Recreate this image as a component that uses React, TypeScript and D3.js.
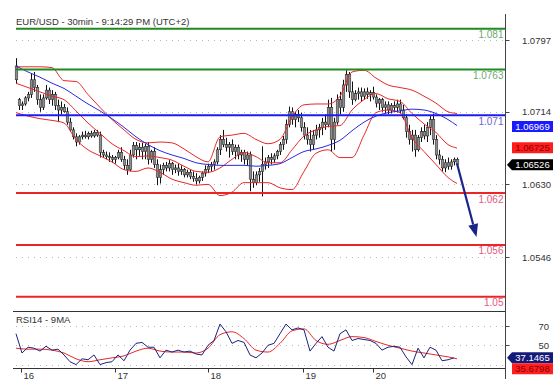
import * as d3 from 'd3'

const FONT = '"Liberation Sans", Arial, sans-serif'

// EUR/USD 30min candles, values in pips above 1.0000
const open = [
  767, 728, 721, 723, 730, 734, 751, 742, 728, 719,
  730, 739, 728, 734, 721, 716, 719, 714, 702, 693,
  685, 679, 685, 687, 685, 689, 686, 690, 687, 667,
  664, 662, 661, 659, 661, 667, 659, 652, 647, 664,
  675, 670, 673, 668, 674, 659, 668, 653, 638, 647,
  652, 649, 654, 647, 649, 645, 647, 641, 644, 639,
  637, 634, 638, 643, 647, 651, 653, 656, 670, 682,
  676, 673, 676, 668, 673, 664, 667, 659, 664, 636,
  632, 641, 645, 653, 656, 661, 659, 663, 668, 676,
  682, 699, 714, 705, 711, 707, 696, 687, 682, 676,
  687, 693, 696, 702, 699, 719, 682, 702, 728, 719,
  745, 757, 737, 728, 735, 737, 732, 737, 734, 736,
  731, 724, 728, 719, 722, 716, 721, 719, 723, 716,
  707, 691, 682, 687, 670, 684, 691, 686, 696, 705,
  682, 664, 659, 649, 655, 651, 656, 659,
]
const high = [
  776, 730, 726, 732, 737, 758, 760, 745, 734, 734,
  745, 742, 739, 737, 728, 726, 723, 719, 707, 696,
  689, 687, 691, 692, 691, 692, 693, 693, 691, 670,
  668, 667, 664, 663, 670, 673, 663, 659, 670, 679,
  679, 678, 678, 677, 679, 670, 673, 659, 653, 655,
  656, 658, 656, 653, 654, 652, 649, 647, 647, 645,
  643, 640, 645, 652, 654, 656, 659, 673, 687, 693,
  684, 679, 682, 676, 676, 670, 670, 668, 668, 645,
  645, 649, 674, 661, 664, 666, 666, 670, 679, 686,
  705, 720, 719, 714, 716, 713, 702, 696, 693, 693,
  699, 700, 707, 711, 728, 730, 707, 734, 737, 751,
  762, 760, 749, 739, 742, 742, 741, 742, 739, 743,
  734, 730, 730, 726, 726, 724, 726, 728, 728, 722,
  711, 699, 693, 693, 687, 696, 699, 702, 709, 712,
  687, 670, 663, 659, 661, 659, 661, 661,
]
const low = [
  746, 716, 716, 721, 726, 730, 737, 722, 714, 716,
  728, 723, 721, 716, 702, 711, 713, 699, 691, 682,
  674, 676, 682, 683, 682, 684, 684, 685, 661, 661,
  659, 656, 655, 654, 659, 656, 647, 641, 645, 661,
  659, 663, 659, 659, 653, 655, 649, 629, 631, 641,
  645, 645, 641, 643, 640, 641, 638, 638, 636, 633,
  630, 631, 634, 639, 643, 645, 647, 653, 664, 673,
  668, 661, 664, 659, 659, 656, 653, 652, 622, 626,
  629, 633, 616, 647, 649, 653, 655, 659, 664, 670,
  677, 696, 699, 696, 702, 691, 682, 676, 668, 670,
  682, 684, 687, 693, 696, 668, 670, 699, 711, 714,
  737, 730, 722, 726, 728, 726, 728, 729, 726, 728,
  719, 716, 714, 712, 711, 712, 714, 713, 712, 705,
  684, 676, 668, 662, 668, 679, 682, 679, 687, 676,
  659, 653, 645, 644, 647, 647, 652, 651,
]
const close = [
  751, 721, 723, 730, 734, 751, 742, 728, 719, 730,
  739, 728, 734, 721, 716, 719, 714, 702, 693, 685,
  679, 685, 687, 685, 689, 686, 690, 687, 667, 664,
  662, 661, 659, 661, 667, 659, 652, 647, 664, 675,
  670, 673, 668, 674, 659, 668, 653, 638, 647, 652,
  649, 654, 647, 649, 645, 647, 641, 644, 639, 637,
  634, 638, 643, 647, 651, 653, 656, 670, 682, 676,
  673, 676, 668, 673, 664, 667, 659, 664, 636, 632,
  641, 645, 653, 656, 661, 659, 663, 668, 676, 682,
  699, 714, 705, 711, 707, 696, 687, 682, 676, 687,
  693, 696, 702, 699, 719, 682, 702, 728, 719, 745,
  757, 737, 728, 735, 737, 732, 737, 734, 736, 731,
  724, 728, 719, 722, 716, 721, 719, 723, 716, 707,
  691, 682, 687, 670, 684, 691, 686, 696, 705, 682,
  664, 659, 649, 655, 651, 656, 659, 653,
]

// Bollinger bands and moving average, read every 4th bar (pips)
const bbUpper = [766, 766, 766, 765, 750, 749, 734, 719, 705, 693, 682, 678, 679, 678, 671, 662, 656, 685, 687, 689, 682, 677, 682, 708, 722, 723, 723, 732, 760, 762, 753, 745, 742, 739, 732, 724, 714, 712]
const bbMid = [747, 742, 737, 732, 728, 715, 701, 689, 677, 669, 662, 663, 661, 658, 651, 645, 644, 649, 659, 667, 662, 655, 655, 670, 686, 693, 697, 698, 716, 728, 735, 729, 726, 712, 700, 690, 676, 672]
const bbLower = [713, 709, 706, 704, 701, 682, 670, 663, 656, 647, 645, 649, 644, 636, 632, 629, 630, 617, 621, 632, 632, 632, 626, 624, 645, 666, 670, 661, 661, 687, 713, 716, 713, 684, 668, 653, 638, 631]
const maLine = [767, 760, 754, 747, 741, 732, 723, 715, 706, 696, 685, 676, 669, 664, 660, 655, 653, 652, 652, 652, 651, 652, 654, 661, 668, 671, 675, 681, 692, 702, 709, 713, 715, 717, 716, 712, 705, 698]

// RSI14 every 2nd bar, and its 9MA every 4th bar
const rsi = [
  62, 42, 48, 47, 44, 49, 45, 46, 40, 33, 30, 36, 35, 40, 30, 32, 33, 40, 34, 45,
  52, 53, 48, 48, 37, 45, 43, 45, 43, 44, 41, 40, 50, 55, 72, 64, 52, 55, 53, 40,
  37, 42, 50, 52, 62, 72, 66, 68, 66, 44, 52, 59, 48, 44, 62, 66, 55, 57, 56, 55,
  52, 45, 48, 49, 48, 38, 30, 47, 37, 48, 45, 34, 35, 37,
]
const rsiMa = [47, 46, 46, 45, 42, 36, 33, 35, 37, 39, 44, 47, 44, 43, 43, 42, 47, 61, 64, 57, 45, 43, 52, 65, 67, 55, 51, 55, 59, 58, 54, 50, 47, 44, 42, 40, 38, 36]

const levels = [1.081, 1.0763, 1.071, 1.062, 1.056, 1.05]
const levelLabels = ['1.081', '1.0763', '1.071', '1.062', '1.056', '1.05']
const levelKinds = ['res', 'res', 'pivot', 'sup', 'sup', 'sup']
const priceTicks = [1.0797, 1.0714, 1.063, 1.0546]
const rsiTicks = [70, 50, 30]
const rsiTickLabels = [70, 50]
const dayTicks = [1.5, 33, 64, 95.5, 119]
const dayLabels = ['16', '17', '18', '19', '20']

const lastMa = 1.06969
const lastMid = 1.06725
const lastClose = 1.06526
const lastRsi = 37.1465
const lastRsiMa = 35.6798
const target = { idx: 153.5, price: 1.0569 }

const pip = (v: number) => 1 + v / 10000

const levelColor: Record<string, string> = { res: '#1f8a1f', pivot: '#1c1cf0', sup: '#ec2424' }
const levelText: Record<string, string> = { res: '#72a872', pivot: '#6c64d8', sup: '#e4587e' }

export default function App() {
  const x = d3.scaleLinear().domain([0, 147]).range([16, 457])
  const y = d3.scaleLinear().domain([1.0797, 1.0546]).range([40, 257])
  const yr = d3.scaleLinear().domain([70, 30]).range([326, 364.6])
  const AX = 505.5
  const L = 16

  const bandIdx = [...d3.range(0, 147, 4), 147]
  const rsiIdx = d3.range(0, 148, 2)

  const priceLine = (vals: number[]) =>
    d3
      .line<number>()
      .x((_, i) => x(bandIdx[i]))
      .y((v) => y(pip(v)))
      .curve(d3.curveMonotoneX)(vals) as string

  const rsiPath = d3
    .line<number>()
    .x((_, i) => x(rsiIdx[i]))
    .y((v) => yr(v))(rsi) as string
  const rsiMaPath = d3
    .line<number>()
    .x((_, i) => x(bandIdx[i]))
    .y((v) => yr(v))
    .curve(d3.curveMonotoneX)(rsiMa) as string

  // arrow
  const ax0 = x(147)
  const ay0 = y(pip(close[147])) - 1
  const ax1 = x(target.idx)
  const ay1 = y(target.price)
  const dx = ax1 - ax0
  const dy = ay1 - ay0
  const len = Math.hypot(dx, dy)
  const ux = dx / len
  const uy = dy / len
  const hl = 13
  const hw = 5
  const bx = ax1 - ux * hl
  const by = ay1 - uy * hl
  const head = `M${ax1},${ay1}L${bx - uy * hw},${by + ux * hw}L${bx + uy * hw},${by - ux * hw}Z`

  const box = (cy: number, fill: string, color: string, label: string, pointer: boolean) => {
    const top = cy - 5.5
    const bot = cy + 5.5
    const d = pointer
      ? `M507,${cy}L512,${top}L553,${top}L553,${bot}L512,${bot}Z`
      : `M512,${top}L553,${top}L553,${bot}L512,${bot}Z`
    return (
      <g key={label}>
        <path d={d} fill={fill} />
        <text x={532.5} y={cy + 3.5} textAnchor="middle" fill={color} fontSize={9.5} fontFamily={FONT}>
          {label}
        </text>
      </g>
    )
  }

  const rsiBoxY = yr(lastRsi)
  const rsiMaBoxY = Math.max(yr(lastRsiMa), rsiBoxY + 11)

  return (
    <div style={{ position: 'absolute', left: 0, top: 0 }}>
      <svg width={560} height={392} style={{ display: 'block', background: '#fff' }}>
        <text x={L} y={24.5} fontSize={9.5} fontFamily={FONT} fill="#333">
          EUR/USD - 30min - 9:14:29 PM (UTC+2)
        </text>

        {/* dotted grid */}
        {priceTicks.map((t) => (
          <line key={t} x1={L} x2={AX} y1={Math.round(y(t)) + 0.5} y2={Math.round(y(t)) + 0.5} stroke="#b8b8b8" strokeDasharray="1 5" />
        ))}
        {rsiTicks.map((t) => (
          <line key={t} x1={L} x2={AX} y1={Math.round(yr(t)) + 0.5} y2={Math.round(yr(t)) + 0.5} stroke="#b8b8b8" strokeDasharray="1 5" />
        ))}

        {/* candles */}
        {close.map((c, i) => {
          const cx = Math.round(x(i)) + 0.5
          const o = y(pip(open[i]))
          const cl = y(pip(c))
          const top = Math.min(o, cl)
          const h = Math.max(Math.abs(o - cl), 1)
          return (
            <g key={i}>
              <line x1={cx} x2={cx} y1={y(pip(high[i]))} y2={y(pip(low[i]))} stroke="#111" strokeWidth={1} />
              <rect x={cx - 1.3} y={top} width={2.6} height={h} fill="#8e8e8e" stroke="#222" strokeWidth={0.5} />
            </g>
          )
        })}

        {/* indicators */}
        <path d={priceLine(bbUpper)} fill="none" stroke="#e82828" strokeWidth={1} />
        <path d={priceLine(bbLower)} fill="none" stroke="#e82828" strokeWidth={1} />
        <path d={priceLine(bbMid)} fill="none" stroke="#e82828" strokeWidth={1} />
        <path d={priceLine(maLine)} fill="none" stroke="#2a2ae0" strokeWidth={1} />

        {/* levels */}
        {levels.map((lv, i) => {
          const ly = y(lv)
          return (
            <g key={lv}>
              <line x1={L} x2={AX} y1={ly} y2={ly} stroke={levelColor[levelKinds[i]]} strokeWidth={2} />
              <text x={AX - 2} y={ly + 9.5} textAnchor="end" fontSize={10} fontFamily={FONT} fill={levelText[levelKinds[i]]}>
                {levelLabels[i]}
              </text>
            </g>
          )
        })}

        {/* arrow */}
        <line x1={ax0} y1={ay0} x2={bx} y2={by} stroke="#1b2488" strokeWidth={2.2} />
        <path d={head} fill="#1b2488" />

        {/* panel frame */}
        <line x1={13} x2={AX} y1={311.5} y2={311.5} stroke="#333" />
        <line x1={13} x2={AX} y1={368.5} y2={368.5} stroke="#333" />
        <line x1={AX} x2={AX} y1={14} y2={379} stroke="#444" />

        {/* price axis */}
        {priceTicks.map((t) => (
          <g key={t}>
            <line x1={AX} x2={AX + 4} y1={Math.round(y(t)) + 0.5} y2={Math.round(y(t)) + 0.5} stroke="#444" />
            <text x={551} y={y(t) + 3.5} textAnchor="end" fontSize={9.5} fontFamily={FONT} fill="#333">
              {t.toFixed(4)}
            </text>
          </g>
        ))}

        {/* RSI panel */}
        <text x={L} y={323} fontSize={9.5} fontFamily={FONT} fill="#333">
          RSI14 - 9MA
        </text>
        <path d={rsiMaPath} fill="none" stroke="#e82828" strokeWidth={1} />
        <path d={rsiPath} fill="none" stroke="#1a237e" strokeWidth={1} />
        {rsiTickLabels.map((t) => (
          <g key={t}>
            <line x1={AX} x2={AX + 4} y1={Math.round(yr(t)) + 0.5} y2={Math.round(yr(t)) + 0.5} stroke="#444" />
            <text x={549} y={yr(t) + 3.5} textAnchor="end" fontSize={9.5} fontFamily={FONT} fill="#333">
              {t}
            </text>
          </g>
        ))}

        {/* day axis */}
        {dayTicks.map((d, i) => {
          const tx = Math.round(x(d)) + 0.5
          return (
            <g key={d}>
              <line x1={tx} x2={tx} y1={368.5} y2={372.5} stroke="#333" />
              <text x={tx + 2} y={378.5} fontSize={9.5} fontFamily={FONT} fill="#333">
                {dayLabels[i]}
              </text>
            </g>
          )
        })}

        {/* value boxes */}
        {box(y(lastMa), '#1a1aff', '#fff', lastMa.toFixed(5), false)}
        {box(y(lastMid), '#ff1e1e', '#8a0000', lastMid.toFixed(5), false)}
        {box(y(lastClose), '#000', '#fff', lastClose.toFixed(5), true)}
        {box(rsiBoxY, '#141a7a', '#fff', lastRsi.toFixed(4), true)}
        {box(rsiMaBoxY, '#ff1e1e', '#8a0000', lastRsiMa.toFixed(4), false)}
      </svg>
    </div>
  )
}
